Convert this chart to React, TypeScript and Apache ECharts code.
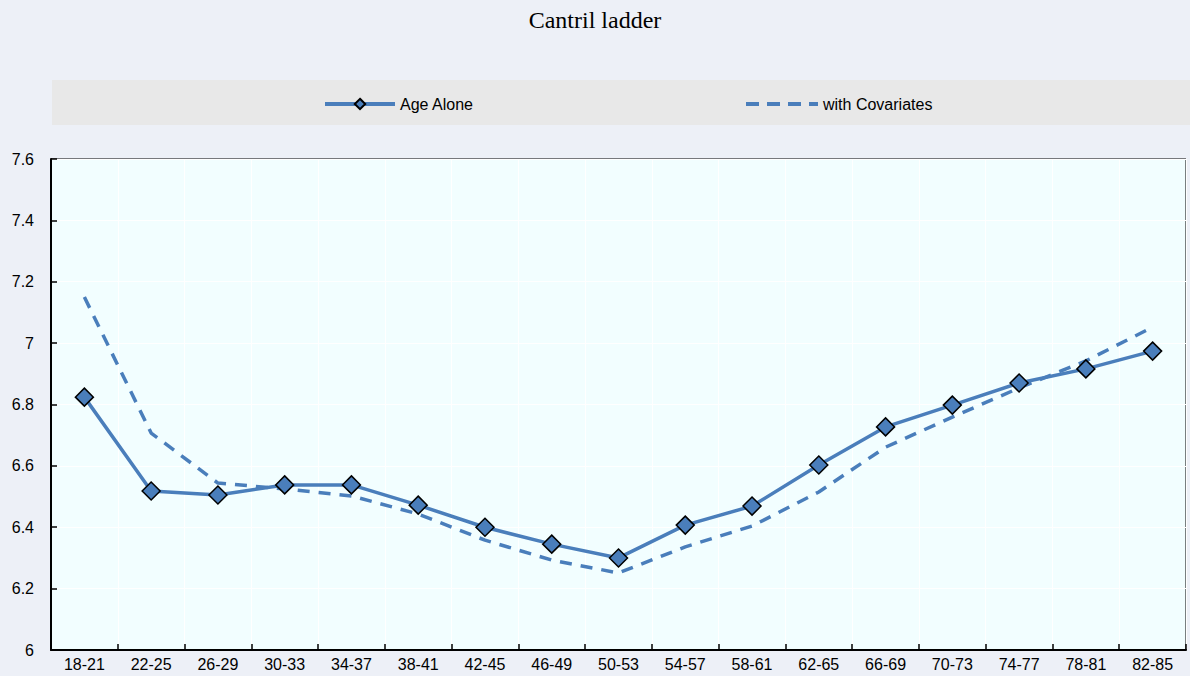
import React, { useEffect, useRef } from "react";
import * as echarts from "echarts";

const categories = ["18-21","22-25","26-29","30-33","34-37","38-41","42-45","46-49","50-53","54-57","58-61","62-65","66-69","70-73","74-77","78-81","82-85"];
const ageAlone = [6.824, 6.518, 6.505, 6.538, 6.538, 6.472, 6.400, 6.345, 6.300, 6.407, 6.469, 6.603, 6.727, 6.798, 6.870, 6.916, 6.974];
const withCovariates = [7.150, 6.707, 6.544, 6.525, 6.502, 6.443, 6.358, 6.293, 6.251, 6.336, 6.404, 6.515, 6.661, 6.759, 6.854, 6.942, 7.052];
const yTicks = ["6", "6.2", "6.4", "6.6", "6.8", "7", "7.2", "7.4", "7.6"];

const BLUE = "#4a7ebb";
const SANS = "'Liberation Sans', Arial, sans-serif";

export default function App() {
  const ref = useRef<HTMLDivElement>(null);
  useEffect(() => {
    if (!ref.current) return;
    const chart = echarts.init(ref.current, undefined, { renderer: "svg" });
    chart.setOption({
      animation: false,
      backgroundColor: "#edf0f7",
      title: {
        text: "Cantril ladder",
        left: "center",
        top: 3,
        textStyle: { fontFamily: "'Liberation Serif', 'Times New Roman', serif", fontWeight: "normal", fontSize: 24, color: "#000" },
      },
      graphic: [
        { type: "rect", left: 52, top: 80, shape: { width: 1138, height: 45 }, style: { fill: "#e8e8e8" }, z: -1 },
      ],
      legend: [
        {
          data: ["Age Alone"],
          left: 318,
          top: 91,
          itemWidth: 70,
          itemHeight: 13,
          lineStyle: { width: 4 },
          textStyle: { fontFamily: SANS, fontSize: 16, color: "#000" },
        },
        {
          data: ["with Covariates"],
          left: 739,
          top: 91,
          itemWidth: 72,
          itemHeight: 13,
          itemStyle: { opacity: 0 },
          lineStyle: { width: 4, type: [13, 8] },
          textStyle: { fontFamily: SANS, fontSize: 16, color: "#000" },
        },
      ],
      grid: {
        left: 51,
        right: 4,
        top: 159,
        bottom: 26,
        show: true,
        backgroundColor: "#f2feff",
        borderColor: "#000",
        borderWidth: 1,
      },
      xAxis: {
        type: "category",
        data: categories,
        boundaryGap: true,
        axisLine: { lineStyle: { color: "#000", width: 2 } },
        axisTick: { show: true, inside: true, length: 6, lineStyle: { color: "#000", width: 1.5 } },
        axisLabel: { color: "#000", fontFamily: SANS, fontSize: 16, margin: 6, interval: 0 },
        splitLine: { show: true, lineStyle: { color: "#ffffff", width: 1 } },
      },
      yAxis: {
        type: "value",
        min: 6,
        max: 7.6,
        interval: 0.2,
        axisLine: { show: true, lineStyle: { color: "#000", width: 2 } },
        axisTick: { show: true, inside: true, length: 6, lineStyle: { color: "#000", width: 1.5 } },
        axisLabel: {
          color: "#000",
          fontFamily: SANS,
          fontSize: 16,
          margin: 17,
          formatter: (v: number) => {
            const idx = Math.round((v - 6) / 0.2);
            return yTicks[idx] ?? String(v);
          },
        },
        splitLine: { show: true, lineStyle: { color: "#ffffff", width: 1 } },
      },
      series: [
        {
          name: "with Covariates",
          type: "line",
          data: withCovariates,
          symbol: "none",
          lineStyle: { color: BLUE, width: 3.5, type: [12, 9] },
          itemStyle: { color: BLUE },
          z: 2,
        },
        {
          name: "Age Alone",
          type: "line",
          data: ageAlone,
          symbol: "diamond",
          symbolSize: 18,
          lineStyle: { color: BLUE, width: 3.5 },
          itemStyle: { color: BLUE, borderColor: "#000", borderWidth: 1.5 },
          z: 3,
        },
      ],
    });
    return () => chart.dispose();
  }, []);
  return <div ref={ref} style={{ position: "fixed", left: 0, top: 0, width: 1190, height: 676 }} />;
}
